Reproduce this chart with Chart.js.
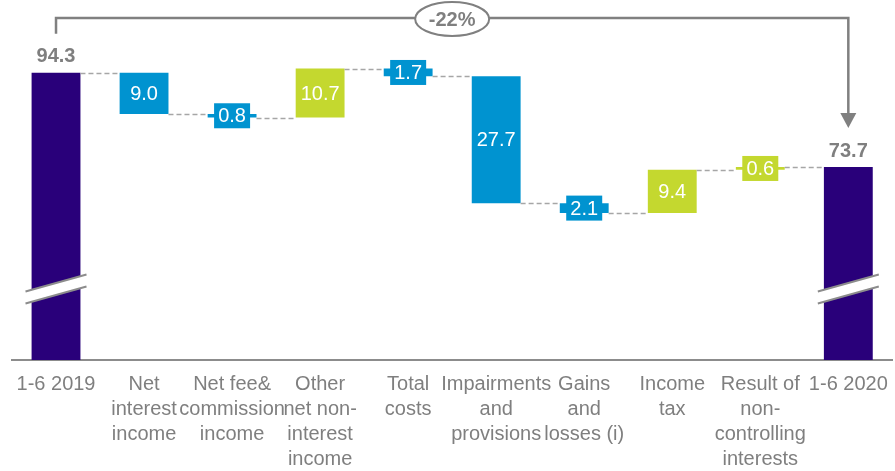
<!DOCTYPE html>
<html>
<head>
<meta charset="utf-8">
<script src="https://cdn.jsdelivr.net/npm/chart.js@4/dist/chart.umd.min.js"></script>
<style>
  html, body { margin: 0; padding: 0; background: #fff; overflow: hidden; }
</style>
</head>
<body>
<canvas id="wf" width="900" height="471"></canvas>
<script>
// categories (multi-line tick labels)
const categories = [
  ['1-6 2019'],
  ['Net', 'interest', 'income'],
  ['Net fee&', 'commission', 'income'],
  ['Other', 'net non-', 'interest', 'income'],
  ['Total', 'costs'],
  ['Impairments', 'and', 'provisions'],
  ['Gains', 'and', 'losses (i)'],
  ['Income', 'tax'],
  ['Result of', 'non-', 'controlling', 'interests'],
  ['1-6 2020']
];
const startValue = 94.3;
const endValue = 73.7;
const changes = [-9.0, -0.8, 10.7, -1.7, -27.7, -2.1, 9.4, 0.6];
// broken axis: bars start at this value
const axisBase = 31.6;
const axisTop = 105.8;

const PURPLE = '#29007A', BLUE = '#0093D0', GREEN = '#C4D82F', GREY = '#7f7f7f';
const FONT = "'Liberation Sans', Arial, sans-serif";

// build floating bars
let levels = [startValue];           // running level after each bar
let barData = [[axisBase, startValue]];
let colors = [PURPLE];
let labelsTxt = [startValue.toFixed(1)];
let lvl = startValue;
changes.forEach(c => {
  const nxt = Math.round((lvl + c) * 10) / 10;
  barData.push([Math.min(lvl, nxt), Math.max(lvl, nxt)]);
  colors.push(c < 0 ? BLUE : GREEN);
  labelsTxt.push(Math.abs(c).toFixed(1));
  levels.push(nxt);
  lvl = nxt;
});
barData.push([axisBase, endValue]);
colors.push(PURPLE);
labelsTxt.push(endValue.toFixed(1));
levels.push(endValue);

const pct = Math.round((endValue / startValue - 1) * 100);

const decor = {
  id: 'decor',
  afterDatasetsDraw(chart) {
    const ctx = chart.ctx;
    const ys = chart.scales.y;
    const bars = chart.getDatasetMeta(0).data;
    const last = bars.length - 1;
    ctx.save();

    // dashed connectors
    ctx.setLineDash([5, 3]);
    ctx.strokeStyle = '#a6a6a6';
    ctx.lineWidth = 1.5;
    for (let i = 0; i < last; i++) {
      const py = Math.round(ys.getPixelForValue(levels[i])) + 0.5;
      const x1 = bars[i].x + bars[i].width / 2;
      const x2 = bars[i + 1].x - bars[i + 1].width / 2;
      ctx.beginPath(); ctx.moveTo(x1, py); ctx.lineTo(x2, py); ctx.stroke();
    }
    ctx.setLineDash([]);

    // axis break marks on the two total bars
    [0, last].forEach(i => {
      const cx = bars[i].x, cy = chart.chartArea.bottom - 71;
      ctx.fillStyle = '#fff';
      ctx.beginPath();
      ctx.moveTo(cx - 30.5, cy + 2.5); ctx.lineTo(cx + 30.5, cy - 14.5);
      ctx.lineTo(cx + 30.5, cy - 2.5); ctx.lineTo(cx - 30.5, cy + 14.5);
      ctx.closePath(); ctx.fill();
      ctx.strokeStyle = '#8c8c8c'; ctx.lineWidth = 2;
      ctx.beginPath(); ctx.moveTo(cx - 30.5, cy + 2.5); ctx.lineTo(cx + 30.5, cy - 14.5); ctx.stroke();
      ctx.beginPath(); ctx.moveTo(cx - 30.5, cy + 14.5); ctx.lineTo(cx + 30.5, cy - 2.5); ctx.stroke();
    });

    // value labels
    ctx.textAlign = 'center';
    ctx.textBaseline = 'middle';
    bars.forEach((b, i) => {
      const p = b.getProps(['x', 'y', 'base', 'width'], true);
      const top = Math.min(p.y, p.base), bot = Math.max(p.y, p.base);
      if (i === 0 || i === last) {
        ctx.font = 'bold 20px ' + FONT;
        ctx.fillStyle = GREY;
        ctx.fillText(labelsTxt[i], p.x, top - 16);
        return;
      }
      const cy = (top + bot) / 2;
      if (bot - top < 28) {
        ctx.fillStyle = colors[i];
        ctx.fillRect(p.x - 18, cy - 12.5, 36, 25);
      }
      ctx.font = '20px ' + FONT;
      ctx.fillStyle = '#fff';
      ctx.fillText(labelsTxt[i], p.x, cy + 1);
    });

    // bracket with arrow and percentage
    const xL = bars[0].x, xR = bars[last].x;
    const yTop = 18;
    const yL = Math.min(bars[0].y, bars[0].base) - 39;
    const yR = Math.min(bars[last].y, bars[last].base) - 39;
    ctx.strokeStyle = '#808080'; ctx.lineWidth = 2.5;
    ctx.beginPath();
    ctx.moveTo(xL, yL); ctx.lineTo(xL, yTop); ctx.lineTo(xR, yTop); ctx.lineTo(xR, yR - 14);
    ctx.stroke();
    ctx.fillStyle = '#808080';
    ctx.beginPath();
    ctx.moveTo(xR - 8, yR - 15); ctx.lineTo(xR + 8, yR - 15); ctx.lineTo(xR, yR); ctx.closePath();
    ctx.fill();
    const ex = (xL + xR) / 2;
    ctx.beginPath();
    ctx.ellipse(ex, yTop + 1, 37, 17, 0, 0, Math.PI * 2);
    ctx.fillStyle = '#fff'; ctx.fill();
    ctx.lineWidth = 2; ctx.strokeStyle = '#808080'; ctx.stroke();
    ctx.font = 'bold 20px ' + FONT;
    ctx.fillStyle = GREY;
    ctx.fillText(pct + '%', ex, yTop + 2);

    ctx.restore();
  }
};

new Chart(document.getElementById('wf'), {
  type: 'bar',
  data: {
    labels: categories,
    datasets: [{
      data: barData,
      backgroundColor: colors,
      borderWidth: 0,
      barPercentage: 0.555,
      categoryPercentage: 1
    }]
  },
  options: {
    responsive: false,
    animation: false,
    layout: { padding: { left: 12, right: 4, top: 20, bottom: 0 } },
    plugins: { legend: { display: false }, tooltip: { enabled: false } },
    scales: {
      x: {
        grid: { display: false, drawTicks: false },
        border: { display: true, color: '#8c8c8c', width: 2 },
        ticks: {
          color: GREY,
          font: { family: FONT, size: 20, lineHeight: 1.25 },
          padding: 12,
          maxRotation: 0,
          autoSkip: false
        },
        afterFit: s => { s.height = 111; }
      },
      y: {
        display: false,
        min: axisBase,
        max: axisTop
      }
    }
  },
  plugins: [decor]
});
</script>
</body>
</html>
